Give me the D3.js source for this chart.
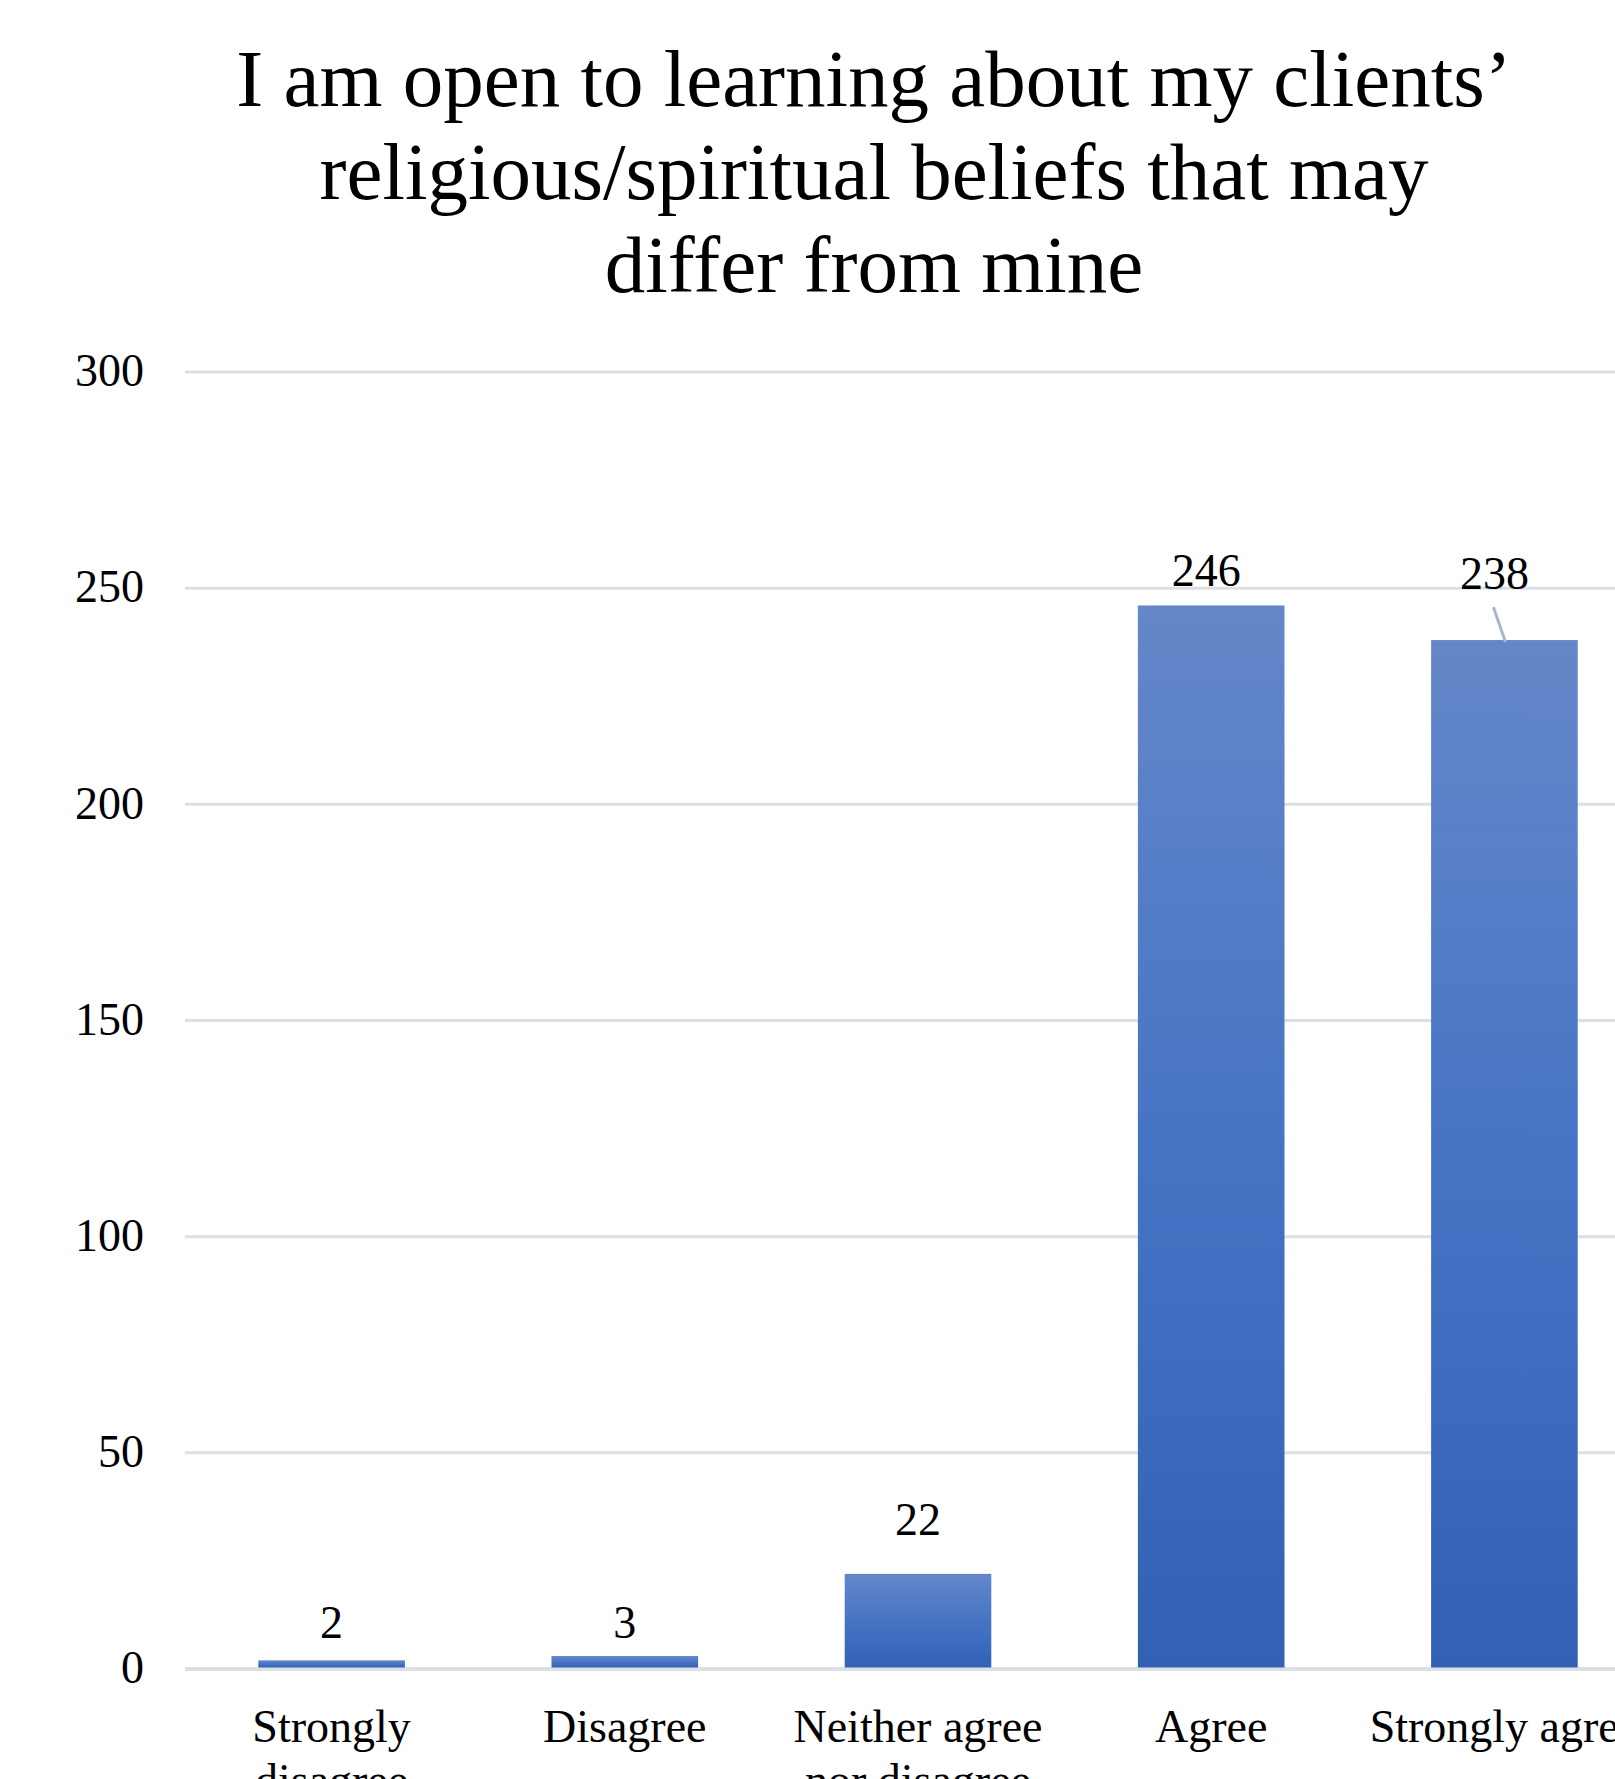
<!DOCTYPE html>
<html>
<head>
<meta charset="utf-8">
<script src="https://cdn.jsdelivr.net/npm/d3@7"></script>
<style>
  html, body { margin: 0; padding: 0; background: #ffffff; overflow: hidden; }
  svg { display: block; }
  text { font-family: "Times New Roman", "Liberation Serif", serif; fill: #000; }
</style>
</head>
<body>
<script>
// Survey responses
const titleLines = [
  "I am open to learning about my clients\u2019",
  "religious/spiritual beliefs that may",
  "differ from mine"
];
const categories = [
  ["Strongly", "disagree"],
  ["Disagree"],
  ["Neither agree", "nor disagree"],
  ["Agree"],
  ["Strongly agree"]
];
const counts = [2, 3, 22, 246, 238];
const yTicks = [0, 50, 100, 150, 200, 250, 300];

// Hand-placed data label lifts above each bar top (px), and horizontal shifts
const labelLift = [22, 18, 39, 19, 51];
const labelShift = [0, 0, 0, -5, -10];

const W = 1615, H = 1779;
const plot = { left: 185, right: 1651, top: 372, bottom: 1669 };

const svg = d3.select("body").append("svg")
  .attr("width", W).attr("height", H);

const defs = svg.append("defs");
const grad = defs.append("linearGradient")
  .attr("id", "barFill")
  .attr("x1", 0).attr("y1", 0).attr("x2", 0).attr("y2", 1);
grad.append("stop").attr("offset", "0%").attr("stop-color", "#6587C9");
grad.append("stop").attr("offset", "50%").attr("stop-color", "#4674C5");
grad.append("stop").attr("offset", "100%").attr("stop-color", "#3261B4");

const x = d3.scaleBand()
  .domain(d3.range(categories.length))
  .range([plot.left, plot.right])
  .paddingInner(0.5)
  .paddingOuter(0.25);

const y = d3.scaleLinear()
  .domain([0, 300])
  .range([plot.bottom, plot.top]);

// Title
const titleX = 874;
svg.append("g").selectAll("text")
  .data(titleLines)
  .join("text")
  .attr("x", titleX)
  .attr("y", (d, i) => 106 + i * 93)
  .attr("text-anchor", "middle")
  .attr("font-size", 81)
  .text(d => d);

// Gridlines
svg.append("g").selectAll("line")
  .data(yTicks)
  .join("line")
  .attr("x1", plot.left)
  .attr("x2", W + 10)
  .attr("y1", d => y(d))
  .attr("y2", d => y(d))
  .attr("stroke", "#DADFE8")
  .attr("stroke-width", d => d === 0 ? 4 : 3);

// Y axis labels
const yAxis = d3.axisLeft(y).tickValues(yTicks).tickSize(0).tickPadding(0);
const yG = svg.append("g")
  .attr("transform", `translate(144,0)`)
  .call(yAxis);
yG.select(".domain").remove();
yG.selectAll("text")
  .attr("font-size", 46)
  .attr("font-family", "'Times New Roman', 'Liberation Serif', serif")
  .attr("fill", "#000")
  .attr("dy", "0.3em");

// Bars
svg.append("g").selectAll("rect")
  .data(counts)
  .join("rect")
  .attr("x", (d, i) => x(i))
  .attr("width", x.bandwidth())
  .attr("y", d => y(d))
  .attr("height", d => y(0) - y(d) - 1.5)
  .attr("fill", "url(#barFill)");

// Leader line for the displaced label
const li = 4;
svg.append("line")
  .attr("x1", x(li) + x.bandwidth() / 2 + labelShift[li] - 1)
  .attr("y1", y(counts[li]) - labelLift[li] + 18)
  .attr("x2", x(li) + x.bandwidth() / 2 + 1)
  .attr("y2", y(counts[li]) + 2)
  .attr("stroke", "#A9B5CB")
  .attr("stroke-width", 3);

// Data labels
svg.append("g").selectAll("text")
  .data(counts)
  .join("text")
  .attr("x", (d, i) => x(i) + x.bandwidth() / 2 + labelShift[i])
  .attr("y", (d, i) => y(d) - labelLift[i])
  .attr("text-anchor", "middle")
  .attr("font-size", 46)
  .text(d => d);

// Category labels
const xG = svg.append("g");
categories.forEach((lines, i) => {
  const t = xG.append("text")
    .attr("x", x(i) + x.bandwidth() / 2)
    .attr("y", 1742)
    .attr("text-anchor", "middle")
    .attr("font-size", 46);
  lines.forEach((ln, j) => {
    t.append("tspan")
      .attr("x", x(i) + x.bandwidth() / 2)
      .attr("dy", j === 0 ? 0 : 54)
      .text(ln);
  });
});
</script>
</body>
</html>
